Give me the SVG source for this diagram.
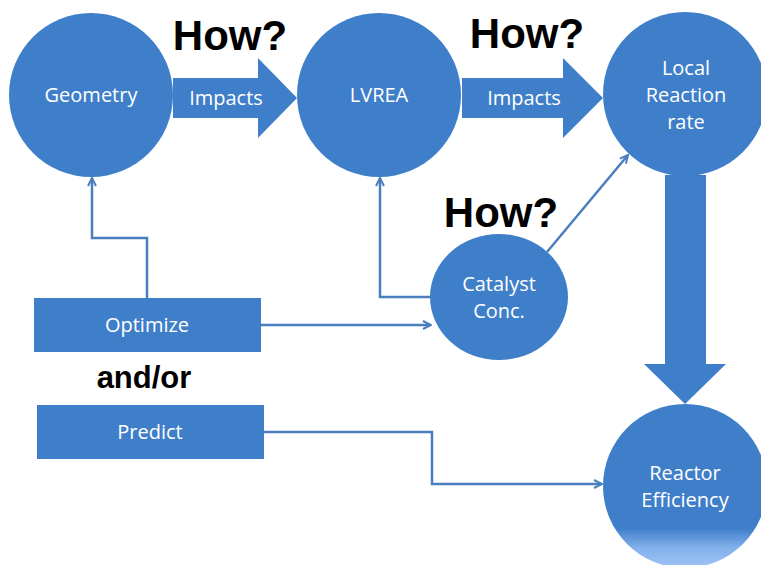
<svg xmlns="http://www.w3.org/2000/svg" width="761" height="565" viewBox="0 0 761 565">
<defs>
<style>
.node{fill:#3F7FCA;}
.lbl{font-family:"Open Sans","Liberation Sans",sans-serif;font-size:20px;fill:#ffffff;text-anchor:middle;}
.big{font-family:"Liberation Sans",Arial,sans-serif;font-weight:bold;fill:#000000;}
.conn{fill:none;stroke:#4A7EBF;stroke-width:2.5;}
</style>
<marker id="ah" viewBox="0 0 10 10" refX="9" refY="5" markerWidth="10" markerHeight="10" markerUnits="userSpaceOnUse" orient="auto">
<polyline points="1,1 9,5 1,9" fill="none" stroke="#4A7EBF" stroke-width="2"/>
</marker>
<linearGradient id="eff" x1="0" y1="0" x2="0" y2="1">
<stop offset="0" stop-color="#3F7FCA"/>
<stop offset="0.76" stop-color="#3F7FCA"/>
<stop offset="0.88" stop-color="#84B2EC"/>
<stop offset="1" stop-color="#9DC3F5"/>
</linearGradient>
</defs>
<rect width="761" height="565" fill="#ffffff"/>

<g id="connectors">
<polyline class="conn" points="147,298 147,238 92,238 92,178" marker-end="url(#ah)"/>
<polyline class="conn" points="431,297 380,297 380,178" marker-end="url(#ah)"/>
<polyline class="conn" points="261,325 431,325" marker-end="url(#ah)"/>
<polyline class="conn" points="547,252 628,155" marker-end="url(#ah)"/>
<polyline class="conn" points="264,432 432,432 432,484 602,484" marker-end="url(#ah)"/>
<polygon id="arrow-geo-lvrea" class="node" points="173,78 258,78 258,58 297,98 258,138 258,118 173,118"/>
<polygon id="arrow-lvrea-local" class="node" points="462,78 563,78 563,58 603,98 563,138 563,118 462,118"/>
<polygon id="arrow-local-eff" class="node" points="665,175 706,175 706,364 726,364 685,404 644,364 665,364"/>
<text class="lbl" x="226" y="105">Impacts</text>
<text class="lbl" x="524" y="105">Impacts</text>
</g>

<g id="geometry">
<circle class="node" cx="91" cy="95" r="82"/>
<text class="lbl" x="91" y="102">Geometry</text>
</g>
<g id="lvrea">
<circle class="node" cx="379" cy="95" r="82"/>
<text class="lbl" x="379" y="102">LVREA</text>
</g>
<g id="local-reaction-rate">
<circle class="node" cx="685" cy="94" r="82"/>
<text class="lbl" x="686" y="75">Local</text>
<text class="lbl" x="686" y="102">Reaction</text>
<text class="lbl" x="686" y="129">rate</text>
</g>
<g id="catalyst-conc">
<ellipse class="node" cx="499" cy="297" rx="69" ry="63"/>
<text class="lbl" x="499" y="291">Catalyst</text>
<text class="lbl" x="499" y="318">Conc.</text>
</g>
<g id="reactor-efficiency">
<circle cx="685" cy="486" r="82" fill="url(#eff)"/>
<text class="lbl" x="685" y="480">Reactor</text>
<text class="lbl" x="685" y="507">Efficiency</text>
</g>
<g id="optimize">
<rect class="node" x="34" y="298" width="227" height="54"/>
<text class="lbl" x="147" y="332">Optimize</text>
</g>
<g id="predict">
<rect class="node" x="37" y="405" width="227" height="54"/>
<text class="lbl" x="150" y="439">Predict</text>
</g>

<text class="big" x="230" y="50" font-size="42" text-anchor="middle">How?</text>
<text class="big" x="527" y="48" font-size="42" text-anchor="middle">How?</text>
<text class="big" x="501" y="227" font-size="42" text-anchor="middle">How?</text>
<text class="big" x="144" y="388" font-size="31" text-anchor="middle">and/or</text>
</svg>
